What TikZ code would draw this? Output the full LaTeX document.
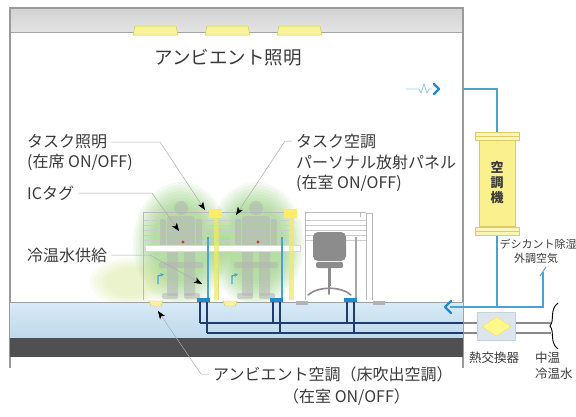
\documentclass[tikz,border=0pt]{standalone}
\usepackage{fontspec}
\setmainfont{Noto Sans CJK JP}
\usetikzlibrary{arrows.meta}

\definecolor{txt}{HTML}{3A3A3A}
\definecolor{wall}{HTML}{9A9A9A}
\definecolor{ceiltop}{HTML}{D2D2D2}
\definecolor{ceilbot}{HTML}{E4E4E4}
\definecolor{lampfill}{HTML}{F8F29A}
\definecolor{lampedge}{HTML}{D6C85C}
\definecolor{plentop}{HTML}{D8EAF6}
\definecolor{plenbot}{HTML}{BED9EC}
\definecolor{slab}{HTML}{505050}
\definecolor{duct}{HTML}{4AA3CF}
\definecolor{ductlt}{HTML}{9CCDE8}
\definecolor{chev}{HTML}{1F8AD0}
\definecolor{pipe}{HTML}{1E3D6E}
\definecolor{pipeout}{HTML}{8A8A8A}
\definecolor{glow}{HTML}{6CC048}
\definecolor{hazecol}{HTML}{C8E070}
\definecolor{person}{HTML}{B4B4B4}
\definecolor{hxfill}{HTML}{DCE5EE}
\definecolor{hxedge}{HTML}{C5D2E0}
\definecolor{acfill}{HTML}{FBF08E}
\definecolor{acedge}{HTML}{DCCB66}
\definecolor{tasklamp}{HTML}{EDEB6A}
\definecolor{chair}{HTML}{8C8C8C}

\tikzset{
  lbl/.style={font=\fontsize{16}{18}\selectfont, text=txt, inner sep=0pt, anchor=west},
  title/.style={font=\fontsize{18.5}{20}\selectfont, text=txt, inner sep=0pt},
  note/.style={font=\fontsize{11}{13}\selectfont, text=txt, inner sep=0pt},
  notebig/.style={font=\fontsize{12.5}{14}\selectfont, text=txt, inner sep=0pt},
  wallline/.style={draw=wall, line width=1.1pt},
  leader/.style={draw=gray!65, line width=0.5pt},
  pointer/.style={leader, -{Stealth[length=8pt, width=6pt, inset=2pt, color=black]}},
  ductline/.style={draw=duct, line width=1.3pt},
  chevron/.style={draw=chev, line width=2.4pt, line cap=round, line join=round},
  pipeline/.style={draw=pipe, line width=1.6pt},
  pipeoutside/.style={draw=pipeout, line width=1.4pt},
  stripe/.style={draw=gray!40, line width=0.5pt},
  post/.style={draw=gray!55, line width=0.7pt},
  lampshape/.style={fill=lampfill, draw=lampedge, line width=0.5pt},
  % soft light cloud built from stacked translucent ellipses
  halo/.pic={
    \foreach \s in {1.00,0.95,...,0.56}
      \fill[glow, opacity=0.07] (0,0) ellipse [x radius=48*\s, y radius=62*\s];
  },
  seated/.pic={
    \begin{scope}[fill=person, opacity=0.55]
      \fill (0,-40) circle (7);
      \fill[rounded corners=3] (-14,-32) rectangle (14,0);
      \fill[rounded corners=2] (-21,-29) rectangle (-15,-2);
      \fill[rounded corners=2] (15,-29) rectangle (21,-2);
      \fill[rounded corners=2] (-22,14) rectangle (22,20);
      \fill[rounded corners=2] (-14,3) rectangle (-3,48);
      \fill[rounded corners=2] (3,3) rectangle (14,48);
      \fill[rounded corners=2] (-19,45) rectangle (-3,51);
      \fill[rounded corners=2] (3,45) rectangle (19,51);
    \end{scope}
  }
}

\begin{document}
\begin{tikzpicture}[x=1pt, y=-1pt]
\useasboundingbox (0,0) rectangle (576,416);
\fill[white] (0,0) rectangle (576,416);

% ---- ceiling and room shell ----
\shade[top color=ceiltop, bottom color=ceilbot] (10,8) rectangle (463,32);
\draw[draw=gray!70, line width=0.9pt] (10,32) -- (463,32);
\draw[wallline] (10,368) -- (10,8) -- (463,8) -- (463,368);

% ceiling luminaires
\foreach \a/\b in {133/178, 205/250, 277/322}
  \draw[lampshape] (\a+2,26) -- (\b-2,26) -- (\b,35) -- (\a,35) -- cycle;

\node[title] (ambl) at (228,58) {アンビエント照明};

% ---- occupant halos and floor haze ----
\pic at (181,244) {halo};
\pic at (256,244) {halo};
\foreach \s in {1.00,0.90,...,0.50}
  \fill[hazecol, opacity=0.08] (130,282) ellipse [x radius=40*\s, y radius=24*\s];

% ---- workstation partitions ----
\foreach \l/\r in {143/215, 218/290, 305/366} {
  \foreach \yy in {220,225,230,235,240}
    \draw[stripe] (\l,\yy) -- (\r,\yy);
  \draw[post] (\l,300) -- (\l,212) -- (\r,212);
}
\draw[post] (366,300) -- (366,213) -- (372,213) -- (372,300);
\draw[post] (360,213) -- (360,217);

% seated occupants
\pic at (181,248) {seated};
\pic at (256,248) {seated};

% desk tops
\fill[white] (145,245) rectangle (300,251);
\draw[draw=gray!30, line width=0.4pt] (145,245) rectangle (300,251);

% task lights on the partitions
\foreach \x in {214, 289} {
  \fill[tasklamp, opacity=0.75] (\x,212) rectangle (\x+5,300);
  \fill[yellow!85!orange!60] (\x-5,209) rectangle (\x+8,218);
}

% personal radiant panel supply risers
\draw[ductline] (208,237) -- (208,302);
\draw[ductline] (282,237) -- (282,302);
\draw[draw=gray!70, line width=1.1pt] (356,237) -- (356,302);

% empty chair
\fill[chair, rounded corners=5] (313,232) rectangle (346,261);
\fill[chair, rounded corners=2] (316,262) rectangle (343,268);
\fill[chair] (328,268) rectangle (331,286);
\draw[draw=chair, line width=1.6pt, line cap=round] (308,295) .. controls (318,286) and (341,286) .. (351,295);
\draw[draw=chair, line width=1.6pt, line cap=round] (329,286) -- (329,294);

% floor air outlets (small arrows)
\foreach \x in {158, 232}
  \draw[draw=duct, line width=1.3pt, -{Stealth[length=3.5pt, width=3.5pt]}] (\x,284) -- (\x,276) -- (\x+6,274);

% ---- raised floor plenum and slab ----
\shade[top color=plentop, bottom color=plenbot] (10,302) rectangle (463,338);
\fill[slab] (10,338) rectangle (463,357);
\draw[draw=gray!75, line width=1pt] (10,302) -- (463,302);

% chilled/hot water pipework under the floor
\draw[pipeline] (200,323) -- (463,323);
\draw[pipeline] (207,333) -- (463,333);
\foreach \x in {200, 273, 347} {
  \draw[pipeline] (\x,300) -- (\x,323);
  \draw[pipeline] (\x+7,300) -- (\x+7,333);
  \fill[chev] (\x-3,298) rectangle (\x+10,302);
}
\draw[pipeoutside] (463,323) -- (551,323);
\draw[pipeoutside] (463,333) -- (551,333);

% floor outlets
\foreach \x in {156, 230}
  \fill[lampfill, draw=lampedge, line width=0.4pt] (\x-7,301) -- (\x+7,301) -- (\x+5,306) -- (\x-5,306) -- cycle;
\foreach \x in {302, 379}
  \fill[gray!60] (\x-6,301) rectangle (\x+6,305);

% ---- air handling unit and ducts ----
\draw[ductline] (463,89) -- (497,89) -- (497,132);
\draw[ductline] (497,235) -- (497,307);
\draw[ductline] (450,307) -- (543,307) -- (543,272);
\draw[draw=duct, line width=0.9pt] (540,276) -- (546,267);
\draw[chevron] (451,301) -- (445,307) -- (451,313);

% supply air break symbol
\draw[draw=ductlt, line width=0.9pt] (406,89) -- (419,89) -- (421,93) -- (424,84) -- (427,93) -- (429,89) -- (432,89);
\draw[chevron] (434,84) -- (439,89) -- (434,94);

% AHU body
\node[fill=acfill, draw=acedge, line width=0.6pt, minimum width=36pt, minimum height=86pt, inner sep=0pt] (ahu) at (497,183) {};
\foreach \yy in {132, 227}
  \draw[fill=lampfill!70, draw=acedge, line width=0.5pt] (475,\yy) rectangle (519,\yy+8);
\foreach \yy in {136, 231}
  \draw[draw=acedge, line width=0.4pt] (475,\yy) -- (519,\yy);
\node[font=\fontsize{13}{15}\selectfont\bfseries, text=txt, align=center, inner sep=0pt] (ahut) at (ahu.center) {空\\調\\機};

% heat exchanger
\node[fill=hxfill, draw=hxedge, line width=0.6pt, minimum width=38pt, minimum height=28pt, inner sep=0pt] (hx) at (496.5,326.5) {};
\draw[fill=yellow!45, draw=yellow!60!orange!60, line width=0.5pt] (482,326.5) -- (496.5,317) -- (511,326.5) -- (496.5,336) -- cycle;

% pipe brace
\draw[black, line width=0.9pt] (558,303) .. controls (549,310) and (555,320) .. (550,326) .. controls (555,332) and (549,342) .. (558,349);

% ---- labels ----
\node[lbl] (tl) at (27,142) {タスク照明};
\node[lbl] (tlsub) at (27,162) {(在席 ON/OFF)};
\node[lbl] (ic) at (27,193) {ICタグ};
\node[lbl] (cw) at (27,255) {冷温水供給};
\node[lbl] (ta) at (296,141) {タスク空調};
\node[lbl] (tasub) at (296,162) {パーソナル放射パネル};
\node[lbl] (tasub2) at (296,183) {(在室 ON/OFF)};
\node[lbl] (ac) at (213,374) {アンビエント空調（床吹出空調）};
\node[lbl] (acsub) at (283,397) {（在室 ON/OFF）};

\node[note] (dsc) at (538,244) {デシカント除湿};
\node[note] (oa) at (536,258) {外調空気};
\node[notebig] (hxl) at (494,358) {熱交換器};
\node[notebig, anchor=west] (mt) at (535,358) {中温};
\node[notebig, anchor=west] (cwt) at (535,374) {冷温水};

% leader lines with pointers
\coordinate (tlBend) at (160,142);
\coordinate (tlTip) at (205,210);
\coordinate (icBend) at (152,193);
\coordinate (icTip) at (179,231);
\coordinate (cwBend) at (150,255);
\coordinate (cwTip) at (202,284);
\coordinate (taBend) at (285,141);
\coordinate (taTip) at (236,215);
\coordinate (acBend) at (201,374);
\coordinate (acTip) at (158,311);

\draw[pointer] ([xshift=4pt]tl.east) -- (tlBend) -- (tlTip);
\draw[pointer] ([xshift=4pt]ic.east) -- (icBend) -- (icTip);
\draw[pointer] ([xshift=4pt]cw.east) -- (cwBend) -- (cwTip);
\draw[pointer] ([xshift=-4pt]ta.west) -- (taBend) -- (taTip);
\draw[pointer] ([xshift=-4pt]ac.west) -- (acBend) -- (acTip);

% IC tags
\fill[red!60!brown] (183,242) circle (1.6);
\fill[red!60!brown] (258,242) circle (1.6);
\end{tikzpicture}
\end{document}
